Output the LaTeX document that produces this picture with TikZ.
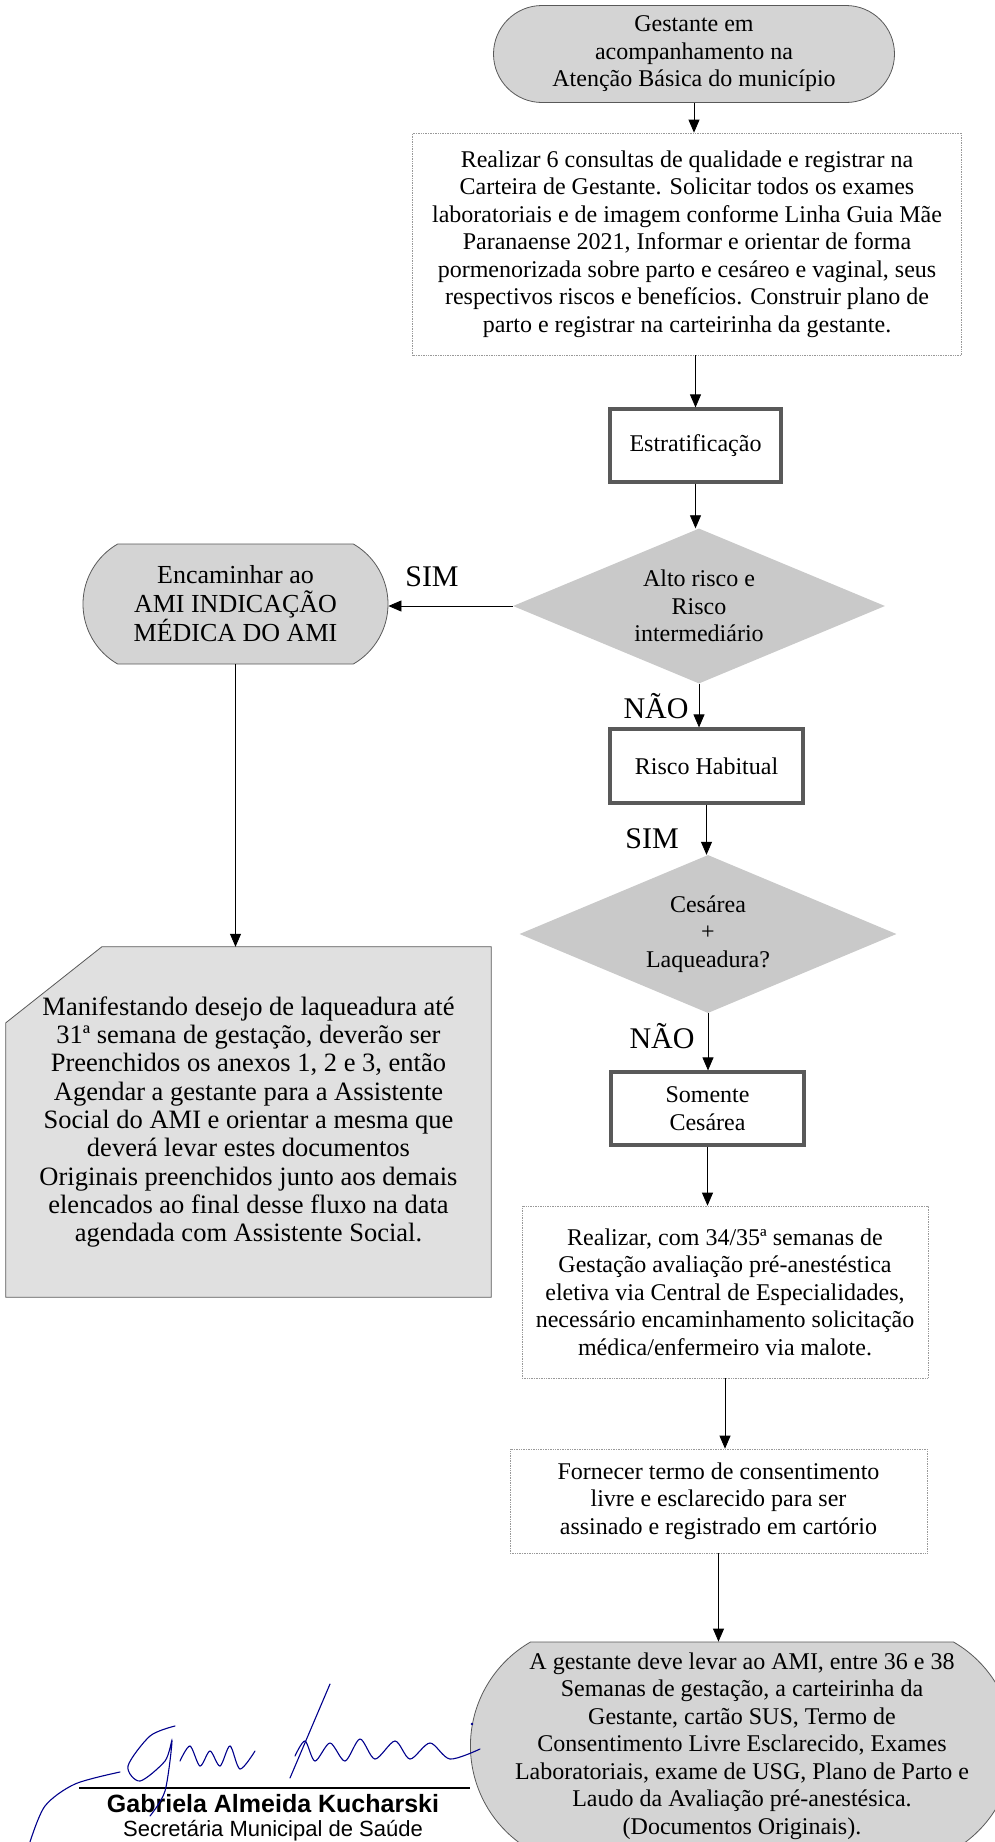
\documentclass[tikz,border=0pt]{standalone}
\usepackage{fontspec}
\setmainfont{Liberation Serif}
\setsansfont{Liberation Sans}
\usetikzlibrary{arrows.meta,shapes.geometric,shapes.misc,positioning,backgrounds}

\begin{document}
\begin{tikzpicture}[x=1pt,y=-1pt,
	txt/.style={align=center,font=\fontsize{24}{27.5}\selectfont,inner sep=0pt},
	term/.style={txt,rounded rectangle,draw=black!65,line width=0.8pt,fill=black!17},
	dotbox/.style={txt,rectangle,draw=black!40,densely dotted,line width=0.7pt,fill=white},
	thickbox/.style={txt,rectangle,draw=black!65,line width=3.2pt,fill=white},
	decision/.style={txt,diamond,fill=black!21,shape aspect=2.4},
	answer/.style={font=\fontsize{30}{30}\selectfont,inner sep=0pt},
	flow/.style={-{Triangle[width=11pt,length=13pt]},line width=0.8pt},
	assin/.style={draw=blue!55!black,line width=1.1pt,line cap=round}]
\useasboundingbox (0,0) rectangle (995,1842);

\node [term,minimum width=401pt,minimum height=97pt,rounded rectangle arc length=180] (inicio) at (694,54)
	{Gestante em\\acompanhamento na\\Atenção Básica do município};
\node [dotbox,minimum width=549pt,minimum height=222pt] (consultas) at (687,244)
	{Realizar 6 consultas de qualidade e registrar na\\
	Carteira de Gestante. Solicitar todos os exames\\
	laboratoriais e de imagem conforme Linha Guia Mãe\\
	Paranaense 2021, Informar e orientar de forma\\
	pormenorizada sobre parto e cesáreo e vaginal, seus\\
	respectivos riscos e benefícios. Construir plano de\\
	parto e registrar na carteirinha da gestante.};
\node [thickbox,minimum width=171pt,minimum height=73pt] (estrat) at (695.5,445.5) {Estratificação};
\node [decision,minimum width=372pt,minimum height=155pt] (risco) at (699,606)
	{Alto risco e\\Risco\\intermediário};
\node [thickbox,minimum width=193pt,minimum height=74pt] (habitual) at (706.5,766) {Risco Habitual};
\node [decision,minimum width=377pt,minimum height=158pt] (laq) at (708,934)
	{Cesárea\\+\\Laqueadura?};
\node [thickbox,minimum width=193pt,minimum height=73pt] (cesarea) at (707.5,1108.5) {Somente\\Cesárea};
\node [dotbox,minimum width=406pt,minimum height=172pt] (preanest) at (725,1292)
	{Realizar, com 34/35ª semanas de\\
	Gestação avaliação pré-anestéstica\\
	eletiva via Central de Especialidades,\\
	necessário encaminhamento solicitação\\
	médica/enfermeiro via malote.};
\node [dotbox,minimum width=417pt,minimum height=104pt] (termo) at (718.5,1501)
	{Fornecer termo de consentimento\\
	livre e esclarecido para ser\\
	assinado e registrado em cartório};
\node [term,minimum width=505pt,minimum height=208pt,rounded rectangle arc length=120] (docs) at (742,1746)
	{A gestante deve levar ao AMI, entre 36 e 38\\
	Semanas de gestação, a carteirinha da\\
	Gestante, cartão SUS, Termo de\\
	Consentimento Livre Esclarecido, Exames\\
	Laboratoriais, exame de USG, Plano de Parto e\\
	Laudo da Avaliação pré-anestésica.\\
	(Documentos Originais).};

\node [term,minimum width=305pt,minimum height=120pt,rounded rectangle arc length=120,font=\fontsize{26}{29}\selectfont] (ami) at (235.5,604)
	{Encaminhar ao\\AMI INDICAÇÃO\\MÉDICA DO AMI};
\node [txt,font=\fontsize{26.5}{28.3}\selectfont,minimum width=485pt,minimum height=350pt] (laqueadura) at (248.5,1122)
	{Manifestando desejo de laqueadura até\\
	31ª semana de gestação, deverão ser\\
	Preenchidos os anexos 1, 2 e 3, então\\
	Agendar a gestante para a Assistente\\
	Social do AMI e orientar a mesma que\\
	deverá levar estes documentos\\
	Originais preenchidos junto aos demais\\
	elencados ao final desse fluxo na data\\
	agendada com Assistente Social.};
\begin{scope}[on background layer]
	\filldraw [fill=black!12,draw=black!65,line width=0.8pt] ([xshift=96pt]laqueadura.north west) -- (laqueadura.north east)
		-- (laqueadura.south east) -- (laqueadura.south west) -- ([yshift=-76pt]laqueadura.north west) -- cycle;
\end{scope}

\draw [flow] (inicio.south) -- (inicio.south |- consultas.north);
\draw [flow] (consultas.south -| estrat.north) -- (estrat.north);
\draw [flow] (estrat.south) -- (estrat.south |- risco.north);
\draw [flow] (risco.south) -- (risco.south |- habitual.north);
\draw [flow] (habitual.south) -- (habitual.south |- laq.north);
\draw [flow] (laq.south) -- (laq.south |- cesarea.north);
\draw [flow] (cesarea.south) -- (cesarea.south |- preanest.north);
\draw [flow] (preanest.south) -- (preanest.south |- termo.north);
\draw [flow] (termo.south) -- (termo.south |- docs.north);
\draw [flow] (risco.west) -- (risco.west -| ami.east);
\draw [flow] (ami.south) -- (ami.south |- laqueadura.north);

\node [answer] (sim1) at (432,577) {SIM};
\node [answer] (nao1) at (656,706) {NÃO};
\node [answer] (sim2) at (652,839) {SIM};
\node [answer] (nao2) at (662,1036) {NÃO};

% assinatura
\draw [line width=1.6pt] (79,1788) -- (470,1788);
\node [font=\sffamily\bfseries\fontsize{25}{25}\selectfont,inner sep=0pt] (nome) at (273,1804) {Gabriela Almeida Kucharski};
\node [font=\sffamily\fontsize{22}{22}\selectfont,inner sep=0pt] (cargo) at (273,1831) {Secretária Municipal de Saúde};
\draw [assin] plot[smooth] coordinates {(30,1842) (45,1806) (75,1784) (120,1772)};
\draw [assin] plot[smooth] coordinates {(175,1726) (150,1736) (128,1766) (140,1781) (165,1761) (172,1741) (165,1791) (150,1816)};
\draw [assin] plot[smooth] coordinates {(180,1761) (190,1746) (200,1766) (210,1751) (220,1766) (230,1746) (240,1769) (255,1751)};
\draw [assin] (330,1684) -- (290,1778);
\draw [assin] plot[smooth] coordinates {(295,1756) (305,1741) (315,1761) (330,1743) (345,1761) (360,1739) (375,1759) (395,1741) (410,1759) (430,1743) (450,1759) (480,1749)};
\fill [blue!55!black] (472,1724) circle (1.3pt);
\end{tikzpicture}
\end{document}
